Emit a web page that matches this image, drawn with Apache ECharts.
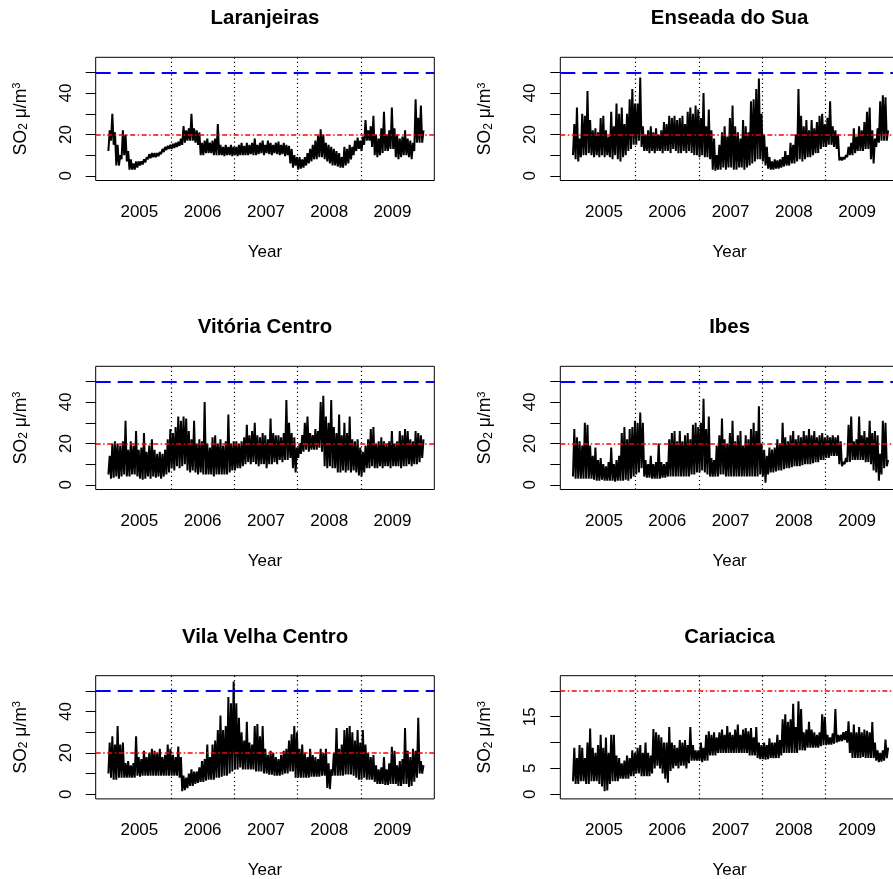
<!DOCTYPE html>
<html><head><meta charset="utf-8">
<script src="https://cdn.jsdelivr.net/npm/echarts@6.0.0/dist/echarts.min.js"></script>
<style>html,body{margin:0;padding:0;background:#fff}#c{width:893px;height:879px}</style>
</head><body><div id="c"></div>
<script>
// ---------------- data ----------------
const yearLabels = ['2005', '2006', '2007', '2008', '2009'];
const yearBoundaries = [2006, 2007, 2008, 2009];
const seriesStart = 2005;      // first day of the series
const binsPerYear = 24;        // half-month bins: a low and a high value per bin
const stations = ['Laranjeiras', 'Enseada do Sua', 'Vitória Centro', 'Ibes', 'Vila Velha Centro', 'Cariacica'];
const dailyLimit = 50;         // blue dashed reference
const annualLimit = 20;        // red dot-dash reference
const yTicksMain = [0, 10, 20, 30, 40, 50];
const yLabelsMain = [0, 20, 40];
const yTicksCariacica = [0, 5, 10, 15, 20];
const yLabelsCariacica = [0, 5, 15];

const laranjeirasLow = [
  12,17,15,5,5,8,10,7,3,3,3,4,5,5.5,6.5,8,8.5,9,9,9.5,10.5,11.5,12.5,13,
  13,13.5,14,14.5,15,16,17,17,17,16,15,10,10,11,11,11,10,10,10,10,9.5,10,10,9.5,
  10,9.5,10,10,10,10,10.5,10,10,10.5,11,10,11,10.5,10,11,10.5,10,10.5,9.5,10,6,4,5,
  3,3.5,4,5,6,7,8,8,9,9,8,7,6,5,5,4.5,4,4,5,6,8,10,12,13,
  12,15,17,17,14,10,9,10,11,12,12,13,13,9,8,9,10,10,9,8,12,16,16,16];
const laranjeirasHigh = [
  22,30,21,15,10,22,20,12,8,6,7,7,7,8,9,10.5,11,11,11,11.5,13,14,14.5,15,
  15.5,16,16.5,18,24,22,23,30,23,22,21,16,17,18,16,17,18,25,15,14,15,14,15,14,
  14,15,16,14.5,16,15,16,18,15,16,17,15,17,16,15,16,16.5,15,16,15,14.5,13,10,9,
  9,8,9,11,13,15,17,19.5,22.5,20,16,15,14,13,12,11,9,14,13,15,14,17,18.5,17,
  19,27,22,24,29,20,18,23,31,20,22,33,23,20,18,19,22,18,17,16,37,28,34,22];

const enseadaLow = [
  10,8,7,9,10,10,11,10,9,10,9,10,9,10,9,8,10,8,7,9,10,12,13,15,
  15,17,14,12,12,11,12,11,12,12,11,12,12,11,13,12,11,11,12,11,12,11,10,10,
  9,10,9,9,8,3,2.5,3,3,4,3,4,4,3,3,4,4,3,4,5,6,7,8,8,
  7,5,3.5,3,3,3.5,3.5,4,4.5,5,5,6,6,7,8,7,8,9,9,10,11,11,13,14,
  14,15,15,14,13,7.5,7.5,8,9,10,10,11,12,12,12,13,13,8,6,14,16,17,17,17];
const enseadaHigh = [
  25,33,18,30,29,41,27,22,23,21,28,29,22,19,31,24,35,30,33,25,30,37,42,35,
  35,47.5,24,20,22,24,21,23,20,22,26,25,29,28,29,27,28,29,25,31,33,30,34,32,
  28,40,24,32,22,18,10,15,21,24,19,28,34,24,21,18,27,24,21,36,37,42,47,30,
  20,14,9,7,8,7.5,8,9,12,10,16,15,20,42,29,24,27,22,27,23,26,29,30,25,
  28,36,24,22,20,9,9,10,14,16,23,19,24,22,26,31,33,22,18,23,36,39,38,22];

const vitoriaLow = [
  5,3,3.5,4,3,4,5,4,4,5,5,4,3,2.5,3,4,3,4,3.5,4,3,4,5,6,
  8,7,9,8,9,10,7,6,7,6,5,6,5,5,5,5,4,5,5,5,5,5,6,7,
  7,8,8,9,10,11,10,11,10,9,10,10,8,10,10,11,10,12,11,12,12,13,8,6,
  13,15,16,17,16,17,17,17,18,16,9,8,9,8,8,6,6,7,6,7,6,7,6,4.5,
  4,6,8,8,9,8,8,9,8,9,9,8,9,9,9,8,9,9,10,9,10,10,11,13];
const vitoriaHigh = [
  14,20,21,20,19,21,31,17,21,19,26,17,18,25,16,19,22,17,15,16,15,17,22,27,
  25,28,33,31,33,32,26,22,31,20,22,21,40,20,18,23,24,20,22,19,21,34,20,21,
  21,20,21,23,29,24,26,30,24,23,25,24,22,32,25,24,24,23,25,41,30,25,23,18,
  20,24,30,33,25,24,27,26,40,43,33,30,41,28,25,34,24,30,25,33,22,21,22,18,
  16,19,22,27,28,20,21,23,21,20,21,26,20,21,26,24,27,26,22,21,26,25,24,22];

const ibesLow = [
  4,3,3,3,3,3,3,3,2.5,2,2,2.5,2,2,2,2,1.5,2,2,2,2.5,2,3,4,
  5,6,8,4,3.5,3.5,3,3,3,3,3.5,3.5,4,4,4,4,4,4,4,4,4,5,5,6,
  6,7,6,5,4,4,4,4,5,5,4,4,4,4,4,4,4,4,4,4,4,4,4,5,
  4,1,5,6,6,6.5,7,7,7.5,8,8,8.5,9,9,9,9.5,10,10,10,10.5,11,11,12,12,
  13,13,14,14,14,10,9,10,11,11,12,12,12,12,12,11,11,10,7,6,2,5,8,9];
const ibesHigh = [
  27,23,21,19,30,29,19,14,18,12,13,10,9,11,18,10,12,14,25,28,22,27,28,31,
  30,35,30,12,10,14,10,11,20,11,10,11,22,25,26,21,26,21,24,25,22,29,30,28,
  30,41.6,27,33,13,12,19,24,32,22,20,25,31,21,24,26,19,24,22,27,30,26,38,20,
  17,14,18,17,18,22,20,30,23,21,24,26,22,24,23,26,24,27,24,26,23,24,25,23,
  24,23,24,23,24,21,11,13,29,33,21,22,33,24,26,23,31,25,26,24,15,31,30,12];

const vilaVelhaLow = [
  10,8,7,7,8,8,8,8,8,8,8,9,8.5,9,9,9,9,9,9,9,9,9,9,9,
  9,9,9,8,1.5,2,3,4,4,5,5.5,6,6,6.5,7,7,7,8,8,8.5,9,9,10,11,
  12,12,13,12,12,12,12,12,11,11,11,10,10,9.5,9.5,9,9,9,9.5,10,10,11,11,8,
  8,8,8,8,8,8.5,8.5,8.5,8.5,9,9,3,2.5,9,9,9,9,9,9.5,9.5,9.5,9,8,7,
  7,8,7,7,7,6,5,5,5,4.5,4.5,5,5,5,4,4,5,5,3.5,4,6,8,10,10];
const vilaVelhaHigh = [
  25,28,24,33,24,25,15,16,14,15,28,18,17,21,18,20,22,21,20,22,18,19,24,22,
  19,18,23,18,9,8,10,12,11,11,13,16,17,24,18,24,26,31,38,31,33,47,44,54.5,
  44,37,30,26,35,25,24,33,34,28,33,22,19,21,20,18,17,19,21,22,26,29,33,30,
  22,24,20,18,22,19,18,17,22,20,22,15,12,20,32,22,24,31,32,33,30,26,31,25,
  31,24,20,18,19,14,12,13,18,12,15,23,21,14,16,17,32,21,18,22,21,37,16,14];

const cariacicaLow = [
  2.5,2,2,2.5,2.5,2,2,2.5,2.5,2.5,2,1.5,0.6,0.7,2,2.5,2.5,2.5,3,3,3,3,3.5,3.5,
  4,4,3.5,3.5,3.5,3.5,4,5,5.5,5,4,3,2.2,4.5,5,5.5,5,5.5,5.5,5,6,6.5,6.5,6.5,
  6.5,6.2,6.5,6.5,7.5,7.5,7.5,8,8,8,8,8,8,8,8,8,8,8,8,7.5,7.5,7.5,7,6.8,
  6.8,6.7,6.8,7,7,7,7,7.5,8,8,8,8,8,8,8.5,8.5,8.5,9,9,9,9,9,9.3,9.5,
  9.5,9.6,9.6,9.8,10,10.2,10.3,10.5,10,8,7,7,7,7,7.2,7,7,7,7,6.5,6.2,6.3,6.5,7];
const cariacicaHigh = [
  9,7,9.5,9,7,10,12.7,9,8,9.5,11.5,9,11,8,11.5,11.5,7.5,7,6,6.5,7.5,7,8.5,8,
  9,9.5,8,10,8,7.5,12.6,12,11.5,11,10,10,13,10,9.5,9,10.5,10,10.5,9.5,13,9.5,8.5,8.5,
  10,9,11.5,12.2,11.5,12,11,12,12.5,11.5,13.2,12,11.5,12.5,13.5,11.5,12.5,12.8,12.2,12.8,11,13,10,9.5,
  10,9.5,10.8,10,10,11.5,10.5,14.5,15.5,14,14.5,17.5,13,18,16.5,12,12.5,14,12.5,12,11.5,12,15.5,15,
  11.5,11,11.8,16.5,11.5,11.5,12,12.2,14.1,12,13.5,12,13,12,12.5,12.3,12,14,10,8.5,8,8.5,10.6,9];

const panelLow = [laranjeirasLow, enseadaLow, vitoriaLow, ibesLow, vilaVelhaLow, cariacicaLow];
const panelHigh = [laranjeirasHigh, enseadaHigh, vitoriaHigh, ibesHigh, vilaVelhaHigh, cariacicaHigh];

// ---------------- layout & style ----------------
const FONT = '"Liberation Sans", Arial, Helvetica, sans-serif';
const colLeft = [95.7, 560.3];
const rowTop = [57.3, 366.3, 675.7];
const boxW = 338.6, boxH = 123.2;
const titleCenterY = [18.2, 327.3, 637.3];

function zigzag(low, high) {
  const pts = [];
  for (let i = 0; i < low.length; i++) {
    pts.push([seriesStart + (i + 0.25) / binsPerYear, low[i]]);
    pts.push([seriesStart + (i + 0.75) / binsPerYear, high[i]]);
  }
  return pts;
}

const grids = [], xAxes = [], yAxes = [], series = [], titles = [];
stations.forEach((name, i) => {
  const col = i % 2, row = Math.floor(i / 2);
  const isCar = name === 'Cariacica';
  grids.push({ left: colLeft[col], top: rowTop[row], width: boxW, height: boxH,
    show: true, borderColor: '#000', borderWidth: 1, backgroundColor: 'transparent',
    containLabel: false, outerBoundsMode: 'none' });
  titles.push({ text: name, left: colLeft[col] + boxW / 2, top: titleCenterY[row],
    textAlign: 'center', textVerticalAlign: 'middle', padding: 0,
    textStyle: { fontSize: 20.4, fontWeight: 'bold', color: '#000', fontFamily: FONT } });
  xAxes.push({ gridIndex: i, type: 'value', min: 2004.81, max: 2010.16,
    axisLine: { show: false }, axisTick: { show: false }, splitLine: { show: false },
    axisLabel: { customValues: yearLabels.map(y => Number(y) + 0.5),
      formatter: v => String(Math.floor(v)), margin: 23, fontSize: 17, color: '#000', fontFamily: FONT },
    name: 'Year', nameLocation: 'middle', nameGap: 63,
    nameTextStyle: { fontSize: 17, color: '#000', fontFamily: FONT } });
  yAxes.push({ gridIndex: i, type: 'value',
    min: isCar ? -0.91 : -2.25, max: isCar ? 22.95 : 57.3,
    axisLine: { show: false }, splitLine: { show: false },
    axisTick: { show: true, length: 10, customValues: isCar ? yTicksCariacica : yTicksMain,
      lineStyle: { color: '#000', width: 1 } },
    axisLabel: { customValues: isCar ? yLabelsCariacica : yLabelsMain, rotate: 90, margin: 21,
      fontSize: 17, color: '#000', fontFamily: FONT },
    name: '{a|SO}{b|2}{a| μ/m}{c|3}', nameLocation: 'middle', nameRotate: 90, nameGap: 66,
    nameTextStyle: { fontSize: 17, color: '#000', fontFamily: FONT,
      rich: { a: { fontSize: 17.5, color: '#000', fontFamily: FONT },
              b: { fontSize: 12, color: '#000', fontFamily: FONT, verticalAlign: 'bottom' },
              c: { fontSize: 11, color: '#000', fontFamily: FONT, verticalAlign: 'top' } } } });
  const marks = [];
  if (!isCar) marks.push({ yAxis: dailyLimit, lineStyle: { color: '#0000ff', width: 2, type: [15, 7] } });
  marks.push({ yAxis: annualLimit, lineStyle: { color: '#ff0000', width: 1.5, type: [5, 2.5, 1.5, 2.5] } });
  yearBoundaries.forEach(b => marks.push({ xAxis: b, lineStyle: { color: '#000', width: 1.2, type: [1.2, 3] } }));
  series.push({ type: 'line', xAxisIndex: i, yAxisIndex: i, data: zigzag(panelLow[i], panelHigh[i]),
    showSymbol: false, symbol: 'none', silent: true, animation: false, clip: true,
    lineStyle: { color: '#000', width: 2 },
    markLine: { silent: true, symbol: ['none', 'none'], label: { show: false }, animation: false,
      emphasis: { disabled: true }, data: marks } });
});

const chart = echarts.init(document.getElementById('c'), null, { renderer: 'canvas' });
chart.setOption({ backgroundColor: '#fff', animation: false, title: titles,
  grid: grids, xAxis: xAxes, yAxis: yAxes, series: series });
</script></body></html>
